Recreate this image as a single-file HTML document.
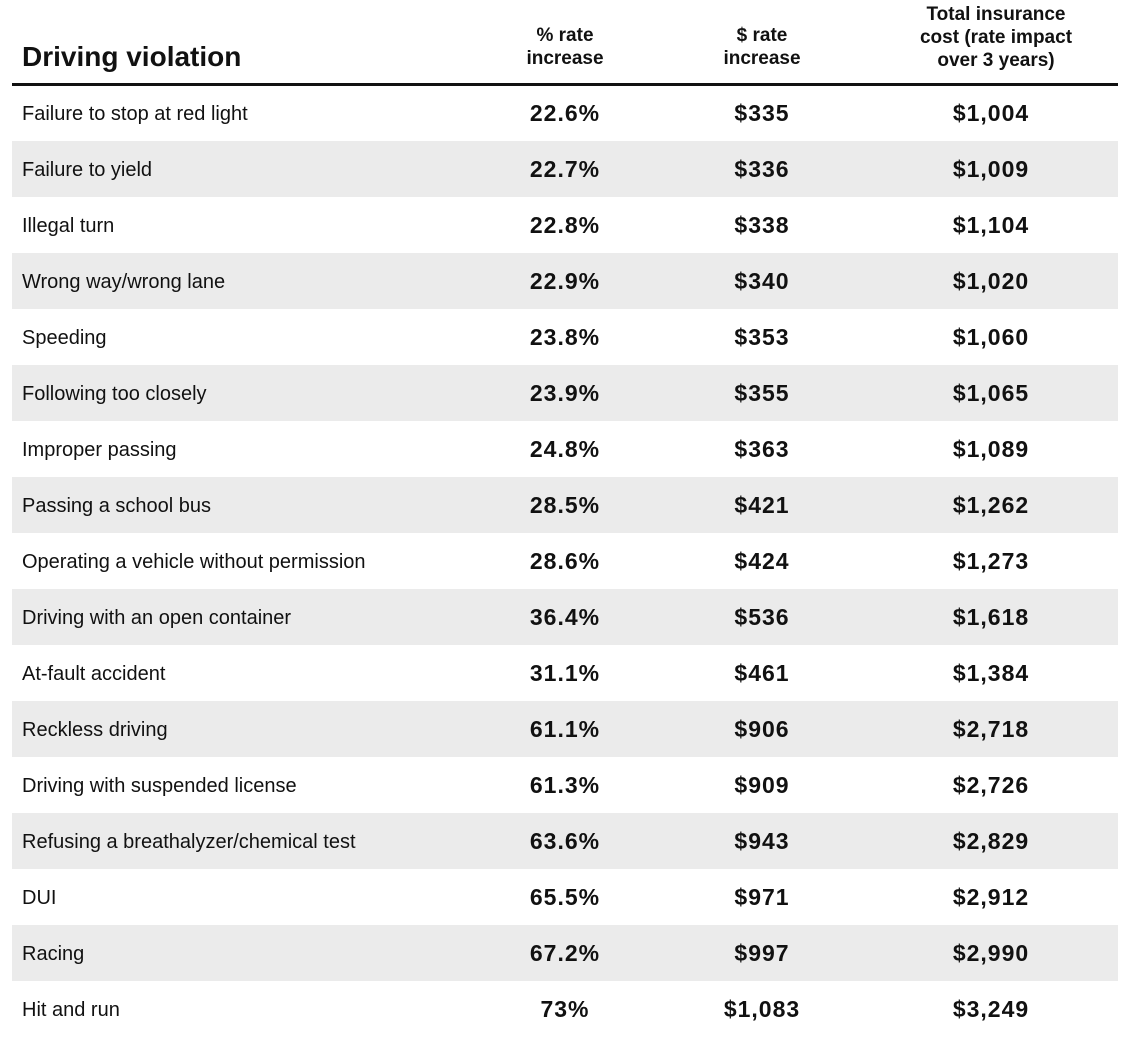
<!DOCTYPE html>
<html><head><meta charset="utf-8"><style>
body{margin:0;width:1124px;height:1037px;background:#fff;font-family:"Liberation Sans",sans-serif;color:#111;position:relative;overflow:hidden}
.a{position:absolute}
.h{font-weight:bold;font-size:19px;line-height:23px;text-align:center;width:220px}
.row{position:absolute;left:12px;width:1106px;height:56px}
.g{background:#ebebeb}
.lab{position:absolute;left:10px;top:18px;font-size:20px}
.num{position:absolute;top:15px;width:200px;text-align:center;font-weight:bold;font-size:23px;letter-spacing:1px}
</style></head><body>
<div class="a" style="left:22px;top:41px;font-size:28px;font-weight:bold">Driving violation</div>
<div class="a h" style="left:455px;top:24px">% rate<br>increase</div>
<div class="a h" style="left:652px;top:24px">$ rate<br>increase</div>
<div class="a h" style="left:886px;top:3px">Total insurance<br>cost (rate impact<br>over 3 years)</div>
<div class="a" style="left:12px;top:83px;width:1106px;height:3px;background:#111"></div>
<div id="tb"></div>
<script>
const labels=["Failure to stop at red light","Failure to yield","Illegal turn","Wrong way/wrong lane","Speeding","Following too closely","Improper passing","Passing a school bus","Operating a vehicle without permission","Driving with an open container","At-fault accident","Reckless driving","Driving with suspended license","Refusing a breathalyzer/chemical test","DUI","Racing","Hit and run"];
const pct=["22.6%","22.7%","22.8%","22.9%","23.8%","23.9%","24.8%","28.5%","28.6%","36.4%","31.1%","61.1%","61.3%","63.6%","65.5%","67.2%","73%"];
const dollars=["$335","$336","$338","$340","$353","$355","$363","$421","$424","$536","$461","$906","$909","$943","$971","$997","$1,083"];
const totals=["$1,004","$1,009","$1,104","$1,020","$1,060","$1,065","$1,089","$1,262","$1,273","$1,618","$1,384","$2,718","$2,726","$2,829","$2,912","$2,990","$3,249"];
const tb=document.getElementById('tb');
labels.forEach((l,i)=>{
 const r=document.createElement('div');
 r.className='row'+(i%2?' g':'');
 r.style.top=(85+i*56)+'px';
 
 
 const a=document.createElement('div');a.className='lab';a.textContent=l;
 
 
 r.appendChild(a);
 [[pct[i],453],[dollars[i],650],[totals[i],879]].forEach(([t,x])=>{
  const n=document.createElement('div');n.className='num';n.textContent=t;n.style.left=x+'px';
  
  
  r.appendChild(n);
 });
 tb.appendChild(r);
});
</script>
</body></html>
